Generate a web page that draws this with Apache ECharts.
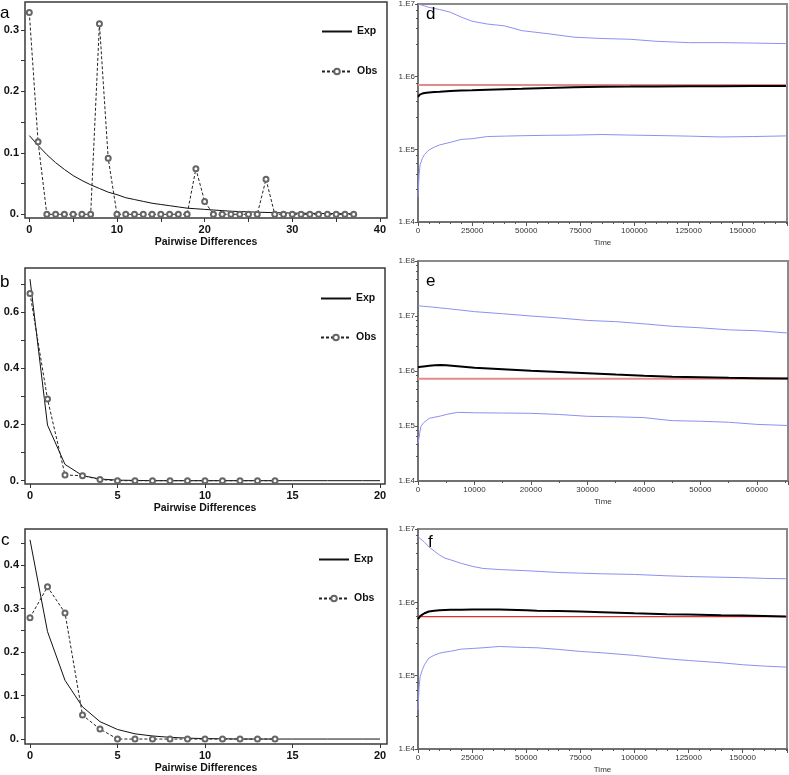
<!DOCTYPE html>
<html><head><meta charset="utf-8">
<script src="https://cdn.jsdelivr.net/npm/echarts@6/dist/echarts.min.js"></script>
<style>html,body{margin:0;padding:0;background:#fff}#c{width:789px;height:775px}</style>
</head><body><div id="c"></div>
<script>
// ---------- Left panels: mismatch distributions ----------
const aX   = [0,1,2,3,4,5,6,7,8,9,10,11,12,13,14,15,16,17,18,19,20,21,22,23,24,25,26,27,28,29,30,31,32,33,34,35,36,37];
const aObs = [0.328,0.118,0,0,0,0,0,0,0.31,0.091,0,0,0,0,0,0,0,0,0,0.074,0.021,0,0,0,0,0,0,0.057,0,0,0,0,0,0,0,0,0,0];
const aExp = [0.128,0.112,0.097,0.084,0.073,0.063,0.055,0.048,0.042,0.036,0.032,0.027,0.024,0.021,0.018,0.016,0.014,0.012,0.010,0.009,0.008,0.007,0.006,0.005,0.0045,0.004,0.0035,0.003,0.0027,0.0024,0.002,0.0018,0.0016,0.0014,0.0012,0.0011,0.001,0.001];

const bObsX = [0,1,2,3,4,5,6,7,8,9,10,11,12,13,14];
const bObs  = [0.667,0.291,0.02,0.018,0.004,0,0,0,0,0,0,0,0,0,0];
const bExpX = [0,1,2,3,4,5,6,7,8,9,10,11,12,13,14,15,16,17,18,19,20];
const bExp  = [0.718,0.198,0.058,0.018,0.006,0.002,0.001,0,0,0,0,0,0,0,0,0,0,0,0,0,0];

const cObsX = [0,1,2,3,4,5,6,7,8,9,10,11,12,13,14];
const cObs  = [0.279,0.35,0.29,0.055,0.023,0,0,0,0,0,0,0,0,0,0];
const cExpX = [0,1,2,3,4,5,6,7,8,9,10,11,12,13,14,15,16,17,18,19,20];
const cExp  = [0.458,0.247,0.135,0.074,0.04,0.022,0.012,0.007,0.004,0.002,0.001,0.0005,0,0,0,0,0,0,0,0,0];

// tick values / labels
const aXTicks = [0,5,10,15,20,25,30,35,40];
const aXLabels = [0,10,20,30,40];
const aYTicks = [0,0.05,0.1,0.15,0.2,0.25,0.3];
const aYLabels = [0,0.1,0.2,0.3];
const bXTicks = [0,5,10,15,20];
const bXLabels = [0,5,10,15,20];
const bYTicks = [0,0.1,0.2,0.3,0.4,0.5,0.6,0.7];
const bYLabels = [0,0.2,0.4,0.6];
const cXTicks = [0,5,10,15,20];
const cXLabels = [0,5,10,15,20];
const cYTicks = [0,0.05,0.1,0.15,0.2,0.25,0.3,0.35,0.4,0.45];
const cYLabels = [0,0.1,0.2,0.3,0.4];

// ---------- Right panels: Bayesian skyline plots ----------
const dTime   = [0,500,1000,2000,3000,5000,7500,10000,15000,20000,25000,32000,40000,48000,60000,72000,85000,98000,110000,125000,140000,155000,170000];
const dUpper  = [1.0e7,9.9e6,9.8e6,9.6e6,9.4e6,9.0e6,8.7e6,8.4e6,7.7e6,6.6e6,5.8e6,5.3e6,5.0e6,4.3e6,3.9e6,3.5e6,3.35e6,3.27e6,3.07e6,2.94e6,2.94e6,2.9e6,2.85e6];
const dMedian = [5.3e5,5.55e5,5.7e5,5.85e5,5.95e5,6.05e5,6.15e5,6.2e5,6.35e5,6.45e5,6.5e5,6.6e5,6.7e5,6.8e5,7.0e5,7.15e5,7.25e5,7.3e5,7.35e5,7.4e5,7.4e5,7.45e5,7.45e5];
const dLower  = [2.2e4,4.5e4,6.2e4,7.5e4,8.5e4,9.8e4,1.07e5,1.15e5,1.25e5,1.37e5,1.4e5,1.5e5,1.52e5,1.54e5,1.56e5,1.57e5,1.6e5,1.57e5,1.55e5,1.52e5,1.48e5,1.5e5,1.53e5];
const dRefTime = [0,170500];
const dRef     = [7.7e5,7.7e5];

const eTime   = [0,500,1000,2000,3000,4000,5000,7000,10000,15000,20000,25000,30000,35000,40000,45000,50000,55000,60000,65500];
const eUpper  = [1.54e7,1.52e7,1.5e7,1.47e7,1.44e7,1.4e7,1.37e7,1.3e7,1.2e7,1.1e7,1.0e7,9.2e6,8.3e6,7.9e6,7.2e6,6.5e6,6.1e6,5.6e6,5.4e6,4.9e6];
const eMedian = [1.17e6,1.19e6,1.21e6,1.24e6,1.27e6,1.28e6,1.27e6,1.22e6,1.15e6,1.08e6,1.01e6,9.6e5,9.1e5,8.6e5,8.2e5,7.9e5,7.7e5,7.5e5,7.4e5,7.3e5];
const eLower  = [4.8e4,9.8e4,1.15e5,1.38e5,1.45e5,1.52e5,1.62e5,1.77e5,1.74e5,1.72e5,1.7e5,1.62e5,1.5e5,1.47e5,1.42e5,1.25e5,1.22e5,1.17e5,1.07e5,1.02e5];
const eRefTime = [0,65500];
const eRef     = [7.2e5,7.2e5];

const fTime   = [0,500,1000,2000,3000,5000,7500,10000,12500,15000,20000,25000,30000,37500,50000,55000,65000,75000,85000,100000,115000,125000,140000,150000,160000,170000];
const fUpper  = [7.9e6,7.7e6,7.4e6,7.0e6,6.6e6,5.7e6,5.0e6,4.4e6,4.0e6,3.8e6,3.4e6,3.1e6,2.9e6,2.8e6,2.7e6,2.65e6,2.55e6,2.5e6,2.45e6,2.4e6,2.3e6,2.25e6,2.2e6,2.17e6,2.12e6,2.1e6];
const fMedian = [5.9e5,6.2e5,6.5e5,6.8e5,7.1e5,7.5e5,7.7e5,7.8e5,7.85e5,7.9e5,7.95e5,8.0e5,8.0e5,8.0e5,7.8e5,7.7e5,7.6e5,7.5e5,7.35e5,7.1e5,6.9e5,6.8e5,6.65e5,6.6e5,6.5e5,6.4e5];
const fLower  = [3.4e4,7e4,9.8e4,1.2e5,1.41e5,1.74e5,1.9e5,2.03e5,2.1e5,2.15e5,2.3e5,2.35e5,2.4e5,2.5e5,2.42e5,2.4e5,2.28e5,2.14e5,2.05e5,1.89e5,1.7e5,1.61e5,1.5e5,1.41e5,1.35e5,1.31e5];
const fRefTime = [0,170500];
const fRef     = [6.4e5,6.4e5];

// ---------- helpers ----------
const FONT = 'Liberation Sans';
const zip = (xs, ys) => xs.map((x, i) => [x, ys[i]]);
const fmtLeft = v => (v === 0 ? '0.' : v.toFixed(1));
const fmtLog = v => '1.E' + Math.round(Math.log10(v));
const fmtPlain = v => String(Math.round(v));

function leftGrid(left, top, width, height) {
  return {left, top, width, height, show: true, borderColor: '#3a3a3a', borderWidth: 1.5, backgroundColor: 'transparent'};
}
function rightGrid(left, top, width, height) {
  return {left, top, width, height, show: true, borderColor: '#8a8a8a', borderWidth: 2, backgroundColor: 'transparent'};
}
function leftX(gi, min, max, ticks, labels) {
  return {
    gridIndex: gi, type: 'value', min, max,
    axisLine: {show: false, onZero: false},
    splitLine: {show: false},
    axisTick: {show: true, customValues: ticks, length: 4, lineStyle: {color: '#333'}},
    axisLabel: {customValues: labels, margin: 6, fontSize: 11, fontWeight: 'bold', color: '#111', fontFamily: FONT},
    name: 'Pairwise Differences', nameLocation: 'middle', nameGap: 19,
    nameTextStyle: {fontSize: 10.5, fontWeight: 'bold', color: '#111', fontFamily: FONT}
  };
}
function leftY(gi, min, max, ticks, labels) {
  return {
    gridIndex: gi, type: 'value', min, max,
    axisLine: {show: false, onZero: false},
    splitLine: {show: false},
    axisTick: {show: true, customValues: ticks, length: 4, lineStyle: {color: '#333'}},
    axisLabel: {customValues: labels, formatter: fmtLeft, margin: 6, fontSize: 11, fontWeight: 'bold', color: '#111', fontFamily: FONT}
  };
}
function rightX(gi, max, interval, minorSplit) {
  return {
    gridIndex: gi, type: 'value', min: 0, max, interval,
    axisLine: {show: true, onZero: false, lineStyle: {color: '#6a6a6a', width: 1.5}},
    splitLine: {show: false},
    axisTick: {show: true, length: 4, lineStyle: {color: '#555'}},
    minorTick: {show: true, splitNumber: minorSplit, length: 2, lineStyle: {color: '#555'}},
    axisLabel: {formatter: fmtPlain, margin: 5, fontSize: 8, color: '#333', fontFamily: FONT, showMaxLabel: false},
    name: 'Time', nameLocation: 'middle', nameGap: 17,
    nameTextStyle: {fontSize: 8, color: '#333', fontFamily: FONT}
  };
}
function rightY(gi, min, max) {
  return {
    gridIndex: gi, type: 'log', logBase: 10, min, max,
    axisLine: {show: true, onZero: false, lineStyle: {color: '#6a6a6a', width: 1.5}},
    splitLine: {show: false},
    axisTick: {show: true, length: 3, lineStyle: {color: '#555'}},
    minorTick: {show: true, splitNumber: 5, length: 2, lineStyle: {color: '#555'}},
    axisLabel: {formatter: fmtLog, margin: 3, fontSize: 8, color: '#333', fontFamily: FONT}
  };
}
function expSeries(gi, data) {
  return {name: 'Exp', type: 'line', xAxisIndex: gi, yAxisIndex: gi, data,
    showSymbol: false, symbol: 'none', lineStyle: {color: '#111', width: 1, type: 'solid'}, itemStyle: {color: '#111'}};
}
function obsSeries(gi, data) {
  return {name: 'Obs', type: 'line', xAxisIndex: gi, yAxisIndex: gi, data,
    symbol: 'emptyCircle', symbolSize: 5, showSymbol: true, showAllSymbol: true,
    lineStyle: {color: '#222', width: 1, type: [3, 2]},
    itemStyle: {color: '#666', borderWidth: 1}};
}
function bspLine(gi, name, data, color, width) {
  return {name, type: 'line', xAxisIndex: gi, yAxisIndex: gi, data,
    showSymbol: false, symbol: 'none', lineStyle: {color, width}};
}
function legendAt(left, top, gap) {
  return {orient: 'vertical', left, top, itemWidth: 30, itemHeight: 7, itemGap: gap,
    data: [{name: 'Exp', itemStyle: {opacity: 0}}, {name: 'Obs'}], selectedMode: false,
    textStyle: {fontSize: 10.5, fontWeight: 'bold', color: '#111', fontFamily: FONT}};
}
function letter(text, left, top) {
  return {text, left, top, padding: 0, textStyle: {fontSize: 17, fontWeight: 'normal', color: '#000', fontFamily: FONT}};
}

const option = {
  animation: false,
  backgroundColor: '#fff',
  title: [letter('a', 0, 5), letter('b', 0, 274), letter('c', 1, 532),
          letter('d', 426, 6), letter('e', 426, 273), letter('f', 428, 534)],
  legend: [legendAt(316, 21, 29), legendAt(315, 288, 28), legendAt(313, 549, 28)],
  grid: [
    leftGrid(25, 2, 362, 216),
    leftGrid(25, 268, 360, 216),
    leftGrid(25, 529, 362, 217),
    rightGrid(418, 2, 369, 220),
    rightGrid(418, 261, 370, 220),
    rightGrid(418, 529, 369, 220)
  ],
  xAxis: [
    leftX(0, -0.49, 40.8, aXTicks, aXLabels),
    leftX(1, -0.286, 20.286, bXTicks, bXLabels),
    leftX(2, -0.286, 20.4, cXTicks, cXLabels),
    rightX(3, 170500, 25000, 5),
    rightX(4, 65500, 10000, 2),
    rightX(5, 170500, 25000, 5)
  ],
  yAxis: [
    leftY(0, -0.006, 0.3452, aYTicks, aYLabels),
    leftY(1, -0.0118, 0.7577, bYTicks, bYLabels),
    leftY(2, -0.0114, 0.4829, cYTicks, cYLabels),
    rightY(3, 1e4, 1e7),
    rightY(4, 1e4, 1e8),
    rightY(5, 1e4, 1e7)
  ],
  series: [
    expSeries(0, zip(aX, aExp)), obsSeries(0, zip(aX, aObs)),
    expSeries(1, zip(bExpX, bExp)), obsSeries(1, zip(bObsX, bObs)),
    expSeries(2, zip(cExpX, cExp)), obsSeries(2, zip(cObsX, cObs)),
    bspLine(3, 'upper', zip(dTime, dUpper), '#8f8ff2', 1),
    bspLine(3, 'lower', zip(dTime, dLower), '#8f8ff2', 1),
    bspLine(3, 'ref', zip(dRefTime, dRef), '#e48a8a', 2),
    bspLine(3, 'median', zip(dTime, dMedian), '#000', 2),
    bspLine(4, 'upper', zip(eTime, eUpper), '#8f8ff2', 1),
    bspLine(4, 'lower', zip(eTime, eLower), '#8f8ff2', 1),
    bspLine(4, 'ref', zip(eRefTime, eRef), '#e48a8a', 2),
    bspLine(4, 'median', zip(eTime, eMedian), '#000', 2),
    bspLine(5, 'upper', zip(fTime, fUpper), '#8f8ff2', 1),
    bspLine(5, 'lower', zip(fTime, fLower), '#8f8ff2', 1),
    bspLine(5, 'ref', zip(fRefTime, fRef), '#e03030', 1.2),
    bspLine(5, 'median', zip(fTime, fMedian), '#000', 2)
  ]
};

const chart = echarts.init(document.getElementById('c'), null, {renderer: 'canvas'});
chart.setOption(option);
</script></body></html>
